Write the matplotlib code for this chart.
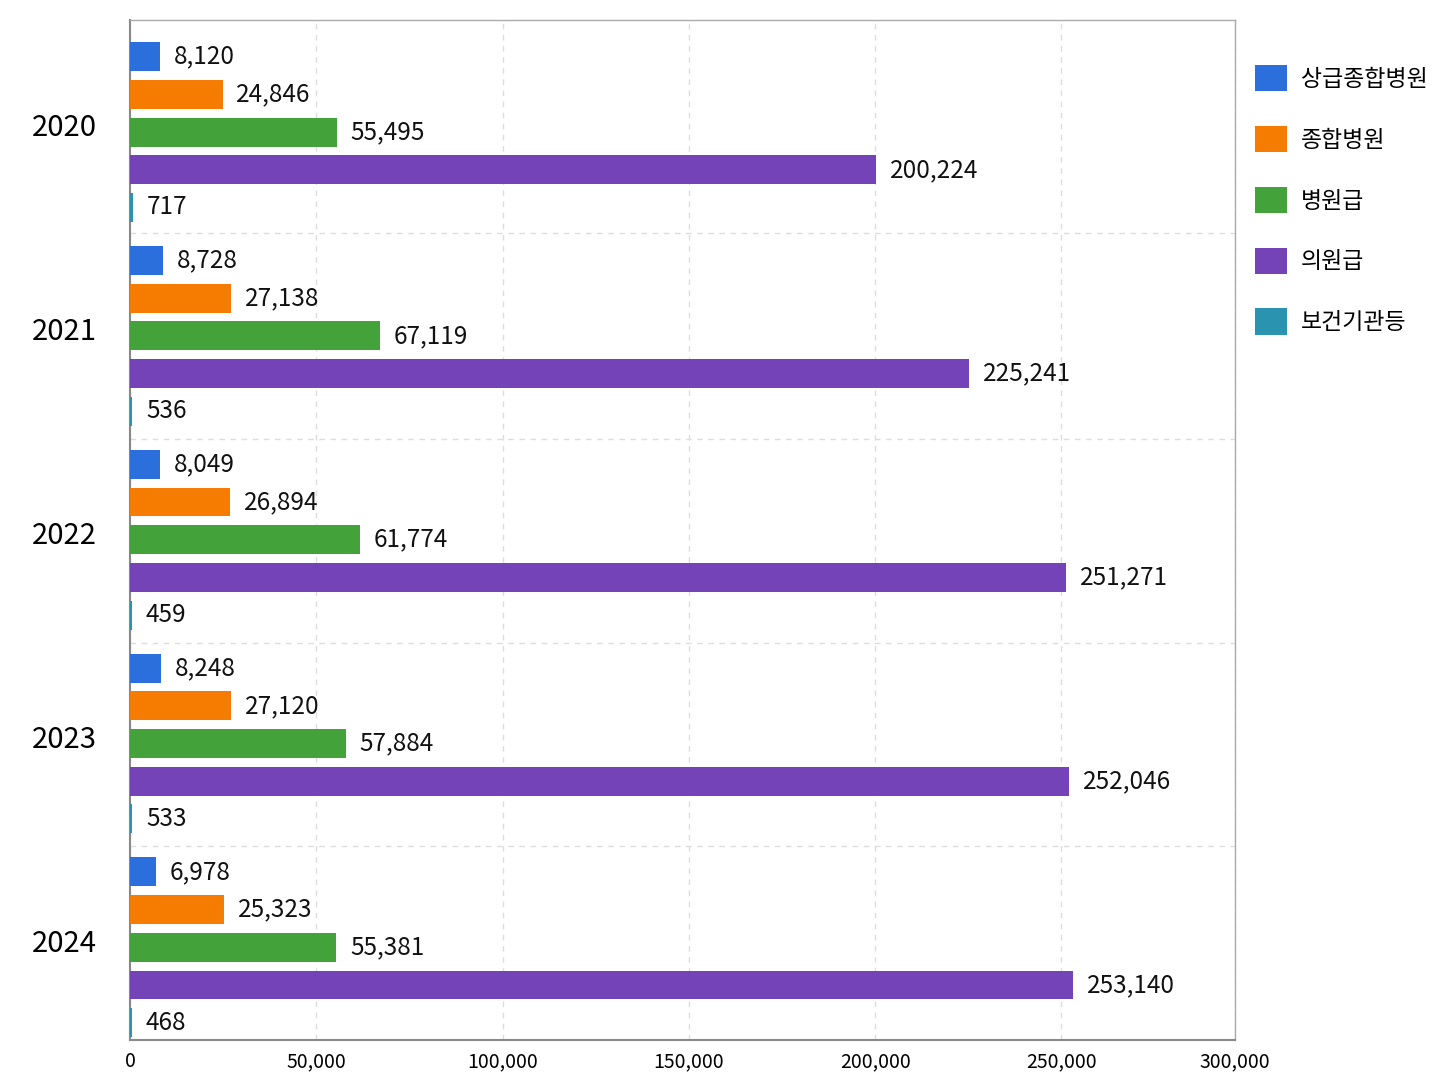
import numpy as np
import matplotlib
matplotlib.use('Agg')
from matplotlib import pyplot as plt
from matplotlib.ticker import FixedLocator

plt.rcParams['font.family'] = ['Noto Sans CJK KR', 'DejaVu Sans']

# data
years = ['2020', '2021', '2022', '2023', '2024']
categories = ['상급종합병원', '종합병원', '병원급', '의원급', '보건기관등']
tertiary = [8120, 8728, 8049, 8248, 6978]
general = [24846, 27138, 26894, 27120, 25323]
hospital = [55495, 67119, 61774, 57884, 55381]
clinic = [200224, 225241, 251271, 252046, 253140]
public = [717, 536, 459, 533, 468]
xtick_labels = ['0', '50,000', '100,000', '150,000', '200,000', '250,000', '300,000']
colors = ['#2a6fdb', '#f57c00', '#43a23a', '#7443b8', '#2a93b0']

series = [tertiary, general, hospital, clinic, public]

fig = plt.figure(figsize=(14.48, 10.86), dpi=100)
ax = fig.add_axes([130/1448, 1-1040/1086, 1105/1448, 1020/1086])

y = np.arange(len(years))
offsets = [-0.335, -0.15, 0.035, 0.22, 0.405]
for vals, off, col, name in zip(series, offsets, colors, categories):
    bars = ax.barh(y + off, vals, height=0.142, color=col, label=name, zorder=3)
    ax.bar_label(bars, labels=[f'{v:,}' for v in vals], padding=10,
                 fontsize=17.5, color='#111111')

# the reference's axis ends slightly short of 300,000 but labels the edge 300,000
xmax = 296600
ax.set_xlim(0, xmax)
ax.set_ylim(4.49, -0.515)
ax.set_xticks([0, 50000, 100000, 150000, 200000, 250000, xmax])
ax.set_xticklabels(xtick_labels)
ax.set_yticks(y)
ax.set_yticklabels(years, fontsize=21)
ax.yaxis.set_minor_locator(FixedLocator([0.53, 1.54, 2.54, 3.54]))
ax.tick_params(axis='x', length=0, labelsize=14, pad=8)
ax.tick_params(axis='y', which='both', length=0, pad=24)

ax.grid(axis='x', which='major', linestyle=(0, (4, 4)), color='#dddddd', linewidth=1, zorder=0)
ax.grid(axis='y', which='minor', linestyle=(0, (4, 4)), color='#dddddd', linewidth=1, zorder=0)

for s in ['left', 'bottom']:
    ax.spines[s].set_color('#888888')
    ax.spines[s].set_linewidth(1.5)
for s in ['top', 'right']:
    ax.spines[s].set_color('#aaaaaa')
    ax.spines[s].set_linewidth(1)

handles, labels = ax.get_legend_handles_labels()
fig.legend(handles, labels, loc='upper left', bbox_to_anchor=(1255/1448, 1-65/1086),
           frameon=False, fontsize=16.5, handlelength=1.4, handleheight=1.4,
           handletextpad=0.6, labelspacing=1.5, borderpad=0, borderaxespad=0)

fig.savefig('out.png', dpi=100, facecolor='white')
